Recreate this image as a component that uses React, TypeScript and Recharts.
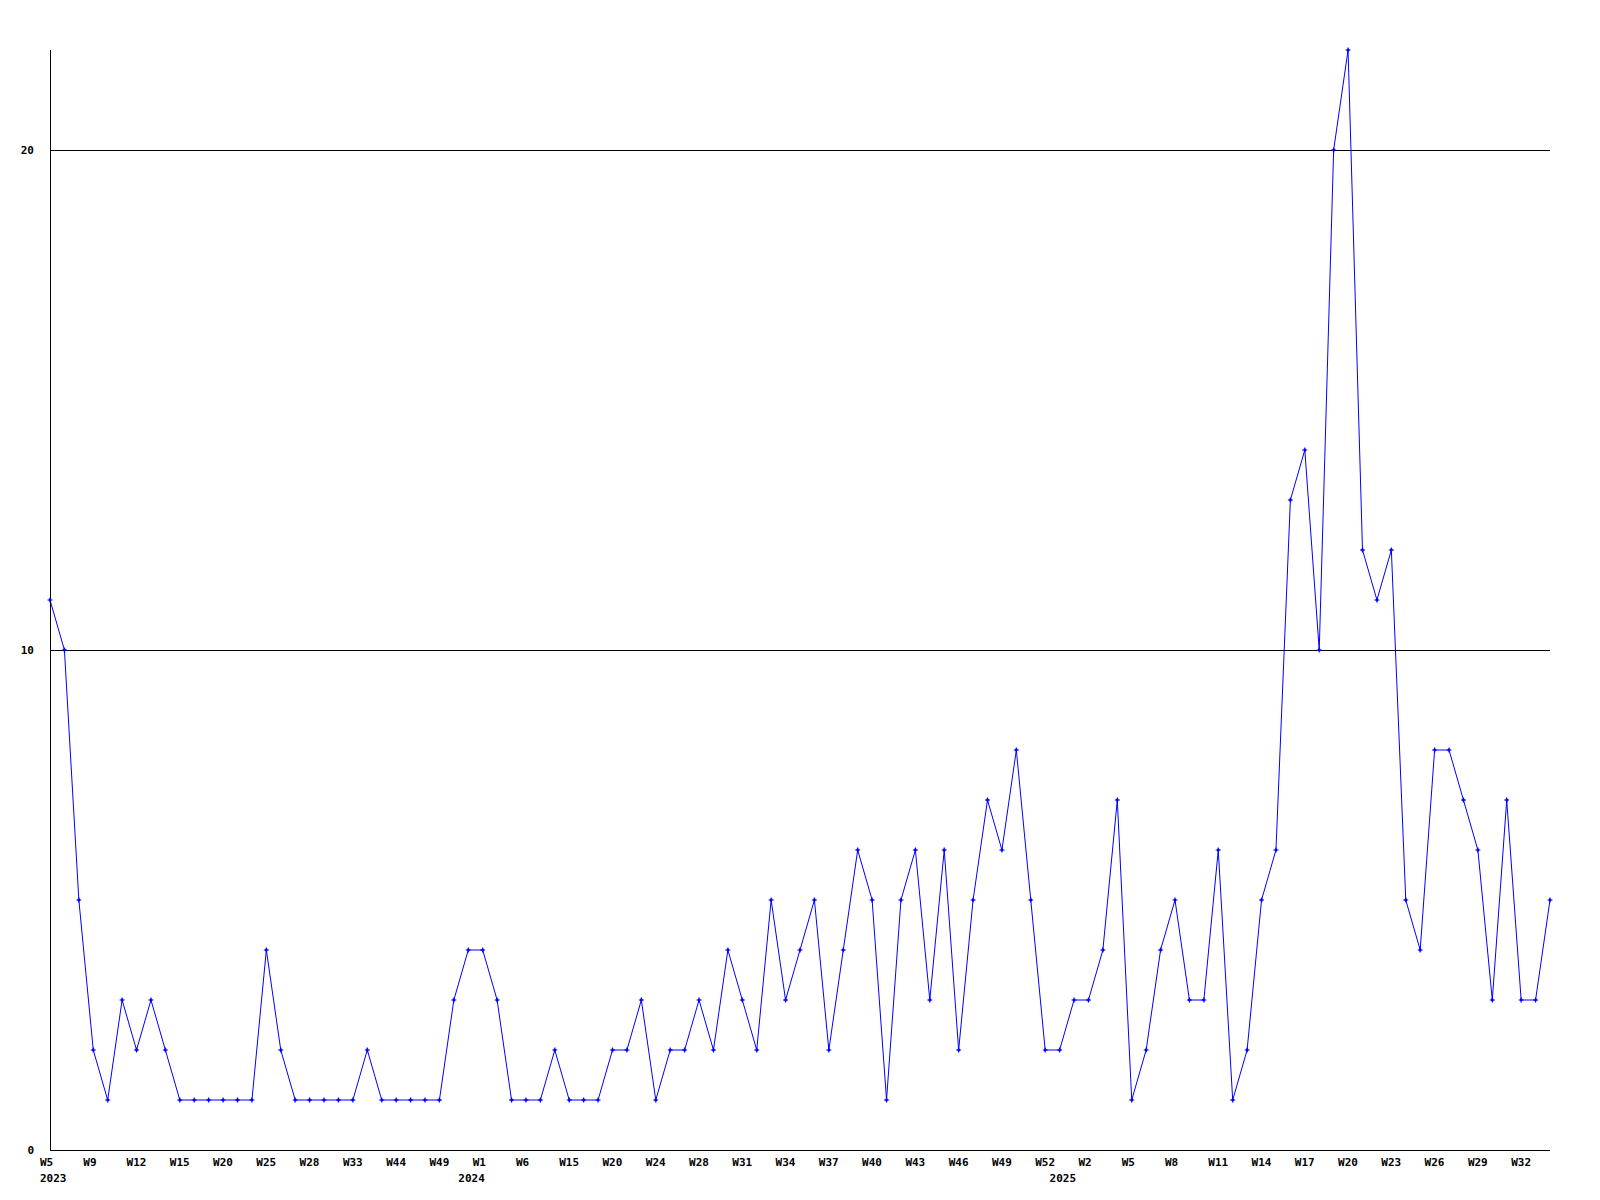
import { LineChart, Line, XAxis, YAxis, ReferenceLine } from 'recharts';

// weekly counts, one per point
const counts = [
  11, 10, 5, 2, 1, 3, 2, 3, 2, 1, 1, 1, 1, 1, 1, 4, 2, 1, 1, 1, 1, 1, 2, 1, 1, 1, 1, 1, 3, 4, 4, 3, 1, 1,
  1, 2, 1, 1, 1, 2, 2, 3, 1, 2, 2, 3, 2, 4, 3, 2, 5, 3, 4, 5, 2, 4, 6, 5, 1, 5, 6, 3, 6, 2, 5, 7, 6, 8,
  5, 2, 2, 3, 3, 4, 7, 1, 2, 4, 5, 3, 3, 6, 1, 2, 5, 6, 13, 14, 10, 20, 22, 12, 11, 12, 5, 4, 8, 8, 7, 6, 3, 7, 3, 3, 5,
];

const weekLabels = [
  'W5', 'W9', 'W12', 'W15', 'W20', 'W25', 'W28', 'W33', 'W44', 'W49',
  'W1', 'W6', 'W15', 'W20', 'W24', 'W28', 'W31', 'W34', 'W37', 'W40',
  'W43', 'W46', 'W49', 'W52', 'W2', 'W5', 'W8', 'W11', 'W14', 'W17',
  'W20', 'W23', 'W26', 'W29', 'W32',
];
const weekTicks = weekLabels.map((_, k) => k * 3);

const yearLabels = ['2023', '2024', '2025'];
const yearTicks = [0, 29, 70];

const yTicks = [0, 10, 20];

const data = counts.map((v, i) => ({ i, v }));

const FONT = '"DejaVu Sans Mono", monospace';

function WeekTick({ x, y, payload }: any) {
  const k = weekTicks.indexOf(payload.value);
  return (
    <text x={x - 10} y={y + 4} textAnchor="start" dominantBaseline="central"
      fontFamily={FONT} fontSize={11} fontWeight="bold" fill="#000">
      {weekLabels[k]}
    </text>
  );
}

function YearTick({ x, y, payload }: any) {
  const k = yearTicks.indexOf(payload.value);
  return (
    <text x={x - 10} y={y - 10} textAnchor="start" dominantBaseline="central"
      fontFamily={FONT} fontSize={11} fontWeight="bold" fill="#000">
      {yearLabels[k]}
    </text>
  );
}

function CountTick({ y, payload }: any) {
  return (
    <text x={34} y={y + 0.5} textAnchor="end" dominantBaseline="central"
      fontFamily={FONT} fontSize={11} fontWeight="bold" fill="#000">
      {payload.value}
    </text>
  );
}

function Marker(p: any) {
  const { cx, cy, index } = p;
  if (cx == null || cy == null) return <g key={index} />;
  return (
    <g key={index}>
      <path d={`M${cx - 2.5},${cy}H${cx + 2.5}M${cx},${cy - 2.5}V${cy + 2.5}`} stroke="#0000ff" strokeWidth={1.2} />
      <rect x={cx - 1.2} y={cy - 1.2} width={2.4} height={2.4} fill="#0000ff" />
    </g>
  );
}

export default function App() {
  return (
    <div style={{ position: 'absolute', left: 0, top: 0, width: 1600, height: 1200, background: '#fff' }}>
      <LineChart width={1600} height={1200} data={data} margin={{ top: 50, right: 50, bottom: 0, left: 0 }}>
        <XAxis xAxisId="w" type="number" dataKey="i" domain={[0, 104]} ticks={weekTicks} interval={0}
          height={30} tickLine={false} axisLine={{ stroke: '#000', shapeRendering: 'crispEdges' }} tick={<WeekTick />} />
        <XAxis xAxisId="y" type="number" dataKey="i" domain={[0, 104]} ticks={yearTicks} interval={0}
          height={20} tickLine={false} axisLine={false} tick={<YearTick />} />
        <YAxis type="number" domain={[0, 22]} ticks={yTicks} interval={0} width={50}
          tickLine={false} axisLine={{ stroke: '#000', shapeRendering: 'crispEdges' }} tick={<CountTick />} />
        {yTicks.filter((t) => t > 0).map((t) => (
          <ReferenceLine key={t} xAxisId="w" y={t} stroke="#000" strokeWidth={1} shapeRendering="crispEdges" />
        ))}
        <Line xAxisId="w" type="linear" dataKey="v" stroke="#0000ff" strokeWidth={1}
          dot={Marker} activeDot={false} isAnimationActive={false} />
      </LineChart>
    </div>
  );
}
